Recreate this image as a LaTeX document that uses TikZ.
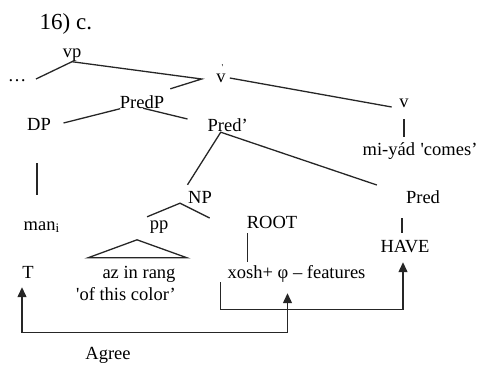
\documentclass[tikz,border=0pt]{standalone}
\usepackage{fontspec}
\setmainfont{Liberation Serif}
\usetikzlibrary{arrows.meta,calc}

\begin{document}
\begin{tikzpicture}[x=1pt, y=-1pt,
  every node/.style={font=\fontsize{18.5}{20}\selectfont, anchor=base, inner sep=0.5pt, text height=13pt, text depth=4pt},
  branch/.style={line width=1.3pt, draw=black!85},
  agree/.style={line width=1.3pt, draw=black!85, {Triangle[length=10pt,width=9pt]}-{Triangle[length=10pt,width=9pt]}},
  mover/.style={line width=1.3pt, draw=black!85, -{Triangle[length=10pt,width=9pt]}}]
  \useasboundingbox (0,0) rectangle (478,365);
  \node[anchor=base west, font=\fontsize{23}{25}\selectfont] (ex) at (39,29) {16) c.};
  \node (vp) at (72,57) {vp};
  \node (dots) at (17,81) {\ldots};
  \node (vbar) at (221,82) {v\rlap{\raisebox{0.62em}{\hspace{-0.22em}\fontsize{9}{9}\selectfont\textquotesingle}}};
  \node (v) at (404,107) {v};
  \node (PredP) at (142,108) {PredP};
  \node (DP) at (39,130) {DP};
  \node[anchor=base west] (predbar) at (207,131) {Pred’};
  \node[anchor=base west] (miyad) at (362,155) {mi-yád\hspace{0.3em}\textquotesingle comes’};
  \node (NP) at (200,203) {NP};
  \node (Pred) at (423,203) {Pred};
  \node (pp) at (159,229) {pp};
  \node[anchor=base west] (man) at (23,230) {man\textsubscript{i}};
  \node (ROOT) at (272,228) {ROOT};
  \node (HAVE) at (405,252) {HAVE};
  \node (T) at (28,278) {T};
  \node (az) at (139,278) {az in rang};
  \node[anchor=base west] (xosh) at (227,278) {xosh+ φ – features};
  \node (color) at (126,300) {\textquotesingle of this color’};
  \node (Agree) at (108,359) {Agree};

  \draw[branch] (vp.south) -- ($(dots.east)+(9,2.5)$);
  \draw[branch] (vp.south) -- ($(vbar.west)+(-14,1.5)$) -- ($(PredP.north east)+(5.5,-5.5)$);
  \draw[branch] ($(vbar.east)+(3.5,0.5)$) -- ($(v.west)+(-7,4.5)$);
  \draw[branch, shorten <=7.5pt, shorten >=4.5pt] (v.south) -- (v.south |- miyad.north);
  \draw[branch] ($(DP.east)+(12,-2.5)$) -- ($(PredP.south west)+(1,-4)$);
  \draw[branch] ($(PredP.south)+(1,-4.5)$) -- ($(predbar.west)+(-19.5,-7.5)$);
  \draw[branch] ($(NP.north west)+(0,-4.5)$) -- ($(predbar.south)+(-7,-3.5)$) -- ($(Pred.west)+(-28.5,-13.5)$);
  \draw[branch] ($(pp.north west)+(-2,1.5)$) -- ($(NP.south west)+(-7.5,-4.5)$) -- ($(ROOT.west)+(-36.5,-5.5)$);
  \draw[branch] ($(az.north)+(-2,-24.5)$) -- ($(az.north)+(-51,-6.5)$) -- ($(az.north)+(48,-6.5)$) -- cycle;
  \draw[branch] ($(DP.south)+(-2,28.5)$) -- ($(DP.south |- man.north)+(-2,-21.5)$);
  \draw[branch] ($(HAVE.north |- Pred.south)+(-3,10.5)$) -- ($(HAVE.north)+(-3,-5.5)$);
  \draw[branch] ($(ROOT.south west)+(1.5,0.5)$) -- ($(ROOT.south west |- xosh.north)+(1.5,-2.5)$);

  \draw[agree] ($(T.south)+(-6,4.5)$) -- ++(0,45) -| ($(xosh.south west)+(60.5,10.5)$);
  \draw[mover] ($(xosh.south west)+(-6.5,-0.5)$) -- ++(0,27) -| ($(HAVE.south)+(-2,5.5)$);
\end{tikzpicture}
\end{document}
